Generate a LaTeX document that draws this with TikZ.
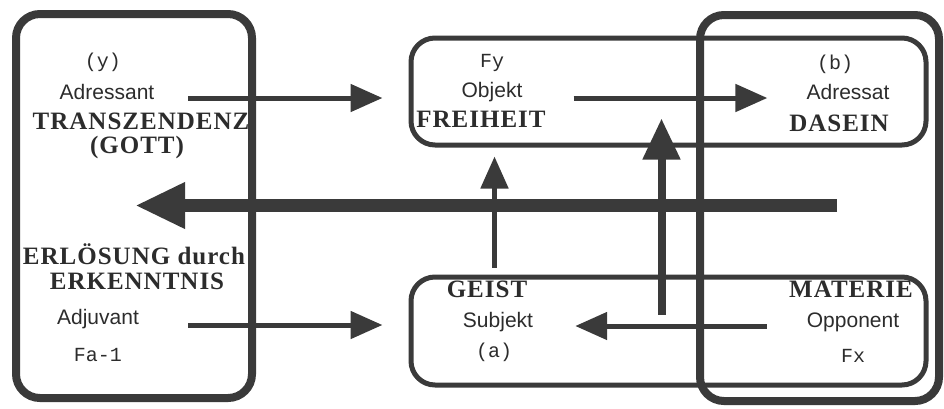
\documentclass[tikz,border=0pt]{standalone}
\usepackage{fontspec}
\setmainfont{Liberation Serif}
\setsansfont{Liberation Sans}
\setmonofont{Liberation Mono}
\newfontfamily\capsfont[LetterSpace=4]{Liberation Serif}
\usetikzlibrary{arrows.meta}
\definecolor{ink}{HTML}{3A3A3A}
\definecolor{textink}{HTML}{2C2C2C}

\begin{document}
\begin{tikzpicture}[x=1pt, y=-1pt,
  bigbox/.style={draw=ink, line width=8pt, rounded corners=24pt, inner sep=0pt},
  smallbox/.style={draw=ink, line width=5pt, rounded corners=24pt, inner sep=0pt},
  caps/.style={text=textink, font=\capsfont\bfseries\fontsize{25}{27}\selectfont, inner sep=0pt, text height=.66em, text depth=0pt},
  role/.style={text=textink, font=\sffamily\fontsize{21}{23}\selectfont, inner sep=0pt, text height=.72em, text depth=0pt},
  tag/.style={text=textink, font=\ttfamily\fontsize{20}{22}\selectfont, inner sep=0pt, text height=.62em, text depth=0pt},
  thinarrow/.style={draw=ink, line width=5pt, -{Triangle[length=32pt, width=27pt]}},
  midarrow/.style={draw=ink, line width=8pt, -{Triangle[length=41pt, width=36pt]}},
  fatarrow/.style={draw=ink, line width=13pt, -{Triangle[length=50pt, width=43pt]}}]
\useasboundingbox (0,0) rectangle (944,408);
% boxes
\node[bigbox, minimum width=236pt, minimum height=384pt] (gottbox) at (134,206) {};
\node[bigbox, minimum width=239pt, minimum height=386pt] (daboxr) at (819.5,208) {};
\node[smallbox, minimum width=515pt, minimum height=107pt] (fybox) at (668.5,91.5) {};
\node[smallbox, minimum width=515pt, minimum height=108pt] (geistbox) at (668.5,331) {};
% left column
\node[tag] (y) at (103,64) {(y)};
\node[role] (adressant) at (107,96) {Adressant};
\node[caps] (transz) at (141,126) {TRANSZENDENZ};
\node[caps] (gott) at (137,150) {(GOTT)};
\node[caps] (erloes) at (134,261) {ERLÖSUNG durch};
\node[caps] (erkennt) at (137,286) {ERKENNTNIS};
\node[role] (adjuvant) at (98,321) {Adjuvant};
\node[tag] (fa) at (98,358) {Fa-1};
% upper box
\node[tag] (fy) at (492,64) {Fy};
\node[role] (objekt) at (492,94) {Objekt};
\node[caps] (freiheit) at (481,124) {FREIHEIT};
\node[tag] (b) at (835,66) {(b)};
\node[role] (adressat) at (848,96) {Adressat};
\node[caps] (dasein) at (839,128) {DASEIN};
% lower box
\node[caps] (geist) at (487,294) {GEIST};
\node[role] (subjekt) at (498,324) {Subjekt};
\node[tag] (a) at (494,354) {(a)};
\node[caps] (materie) at (851,294) {MATERIE};
\node[role] (opponent) at (853,324) {Opponent};
\node[tag] (fx) at (853,359) {Fx};
% arrows
\draw[thinarrow, shorten >=26pt] ([xshift=34pt, yshift=-2pt]adressant.east) -- ([yshift=-2pt]adressant.east -| fybox.west);
\draw[thinarrow, shorten >=39pt] ([xshift=51pt, yshift=-4pt]objekt.east) -- ([yshift=-4pt]objekt.east -| adressat.west);
\draw[thinarrow, shorten >=26pt] ([xshift=49pt, yshift=-4pt]adjuvant.east) -- ([yshift=-4pt]adjuvant.east -| geistbox.west);
\draw[thinarrow, shorten >=42pt] ([xshift=-40pt, yshift=-2pt]opponent.west) -- ([yshift=-2pt]opponent.west -| subjekt.east);
\draw[thinarrow] ([xshift=86pt, yshift=7pt]geistbox.north west) -- ([xshift=86pt, yshift=-9pt]fybox.south west);
\draw[midarrow] ([xshift=253pt, yshift=-40pt]geistbox.north west) -- ([xshift=253pt, yshift=-83pt]fybox.north west);
\draw[fatarrow] ([xshift=17.5pt, yshift=2.5pt]daboxr.center) -- ([xshift=1pt, yshift=0.5pt]gottbox.center);
\end{tikzpicture}
\end{document}
